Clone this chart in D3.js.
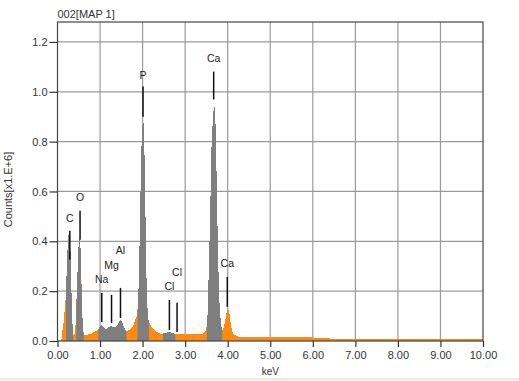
<!DOCTYPE html>
<html>
<head>
<meta charset="utf-8">
<script src="https://cdn.jsdelivr.net/npm/d3@7"></script>
<style>
  body { margin: 0; background: #fff; }
  text { font-family: "Liberation Sans", Arial, sans-serif; }
</style>
</head>
<body>
<svg id="chart" width="519" height="381"></svg>
<script>
// spectrum, keV vs counts (x1.E+6)
const energy = [0.00, 0.08, 0.10, 0.12, 0.14, 0.16, 0.18, 0.20, 0.22, 0.24, 0.26, 0.28, 0.30, 0.32, 0.34, 0.36, 0.38,
  0.40, 0.42, 0.44, 0.46, 0.48, 0.50, 0.52, 0.54, 0.56, 0.58, 0.60, 0.62, 0.70, 0.80, 0.90, 0.96,
  1.00, 1.04, 1.08, 1.14, 1.20, 1.25, 1.32, 1.40, 1.46, 1.49, 1.53, 1.58, 1.62, 1.70, 1.78, 1.84, 1.87,
  1.90, 1.93, 1.96, 1.98, 2.00, 2.02, 2.04, 2.06, 2.08, 2.10, 2.13, 2.16, 2.20, 2.30, 2.40, 2.48,
  2.55, 2.62, 2.70, 2.78, 3.00, 3.30, 3.42, 3.48, 3.52, 3.55, 3.58, 3.62, 3.66, 3.69, 3.72, 3.75,
  3.78, 3.81, 3.84, 3.87, 3.90, 3.94, 3.98, 4.01, 4.04, 4.07, 4.10, 4.15, 4.25, 5.00, 6.00, 6.40,
  6.42, 8.00, 10.00];
const counts = [0, 0, 0.01, 0.05, 0.07, 0.10, 0.16, 0.17, 0.32, 0.38, 0.43, 0.44, 0.40, 0.26, 0.12, 0.04, 0.02,
  0.03, 0.05, 0.14, 0.22, 0.33, 0.40, 0.41, 0.38, 0.26, 0.12, 0.05, 0.025, 0.025, 0.03, 0.04, 0.045,
  0.06, 0.065, 0.055, 0.048, 0.055, 0.06, 0.055, 0.06, 0.08, 0.085, 0.07, 0.05, 0.04, 0.045, 0.06, 0.09, 0.10,
  0.18, 0.40, 0.68, 0.82, 0.87, 0.88, 0.80, 0.60, 0.36, 0.18, 0.09, 0.075, 0.06, 0.04, 0.03, 0.03,
  0.033, 0.036, 0.033, 0.028, 0.027, 0.027, 0.03, 0.04, 0.07, 0.25, 0.45, 0.78, 0.92, 0.94, 0.85, 0.55,
  0.30, 0.14, 0.07, 0.04, 0.05, 0.08, 0.12, 0.13, 0.11, 0.07, 0.04, 0.025, 0.017, 0.015, 0.014, 0.013,
  0.007, 0.007, 0.006];

// identified peak ranges (drawn gray)
const peakRanges = [[0.20, 0.37], [0.44, 0.62], [0.96, 1.62], [1.88, 2.15], [2.48, 2.77], [3.51, 3.87]];

// element markers: name, keV, line top, line bottom, label height
const markerNames = ["C", "O", "Na", "Mg", "Al", "P", "Cl", "Cl", "Ca", "Ca"];
const markerKeV = [0.29, 0.53, 1.04, 1.27, 1.48, 2.01, 2.63, 2.81, 3.67, 3.99];
const markerTop = [0.442, 0.523, 0.193, 0.185, 0.213, 1.021, 0.165, 0.153, 1.081, 0.257];
const markerBottom = [0.326, 0.406, 0.076, 0.072, 0.092, 0.90, 0.044, 0.036, 0.969, 0.137];
const markerLabelAt = [0.478, 0.563, 0.233, 0.289, 0.35, 1.053, 0.205, 0.261, 1.118, 0.297];

const xTicks = d3.range(0, 10.01, 1);
const yTicks = [0, 0.2, 0.4, 0.6, 0.8, 1.0, 1.2];

const spectrum = energy.map((e, i) => ({ e: e, c: counts[i] }));
const markers = markerNames.map((n, i) => ({
  name: n, e: markerKeV[i], top: markerTop[i], bottom: markerBottom[i], label: markerLabelAt[i]
}));

const margin = { left: 57.5, right: 36, top: 22, bottom: 40 };
const width = 519, height = 381;

const svg = d3.select("#chart");

const x = d3.scaleLinear().domain([0, 10]).range([margin.left, width - margin.right]);
const y = d3.scaleLinear().domain([0, 1.28]).range([height - margin.bottom, margin.top]);

// grid
svg.append("g")
  .selectAll("line.vgrid")
  .data(xTicks.slice(1, -1))
  .enter()
  .append("line")
  .attr("x1", d => x(d)).attr("x2", d => x(d))
  .attr("y1", y(0)).attr("y2", margin.top)
  .attr("stroke", "#9a9a9a")
  .attr("stroke-width", 1.2);

svg.append("g")
  .selectAll("line.hgrid")
  .data(yTicks.slice(1))
  .enter()
  .append("line")
  .attr("x1", x(0)).attr("x2", x(10))
  .attr("y1", d => y(d)).attr("y2", d => y(d))
  .attr("stroke", "#9a9a9a")
  .attr("stroke-width", 1.2);

// spectrum
const area = d3.area()
  .x(d => x(d.e))
  .y0(y(0))
  .y1(d => y(d.c));

svg.append("path")
  .datum(spectrum)
  .attr("fill", "#ff8a12")
  .attr("shape-rendering", "crispEdges")
  .attr("d", area);

const defs = svg.append("defs");
peakRanges.forEach((r, i) => {
  defs.append("clipPath")
    .attr("id", "peak" + i)
    .append("rect")
    .attr("x", x(r[0]))
    .attr("y", margin.top)
    .attr("width", x(r[1]) - x(r[0]))
    .attr("height", y(0) - margin.top);

  svg.append("path")
    .datum(spectrum)
    .attr("fill", "#7f7f7f")
    .attr("shape-rendering", "crispEdges")
    .attr("clip-path", `url(#peak${i})`)
    .attr("d", area);
});

// frame
svg.append("rect")
  .attr("x", x(0)).attr("y", margin.top)
  .attr("width", x(10) - x(0)).attr("height", y(0) - margin.top)
  .attr("fill", "none")
  .attr("stroke", "#444")
  .attr("stroke-width", 1.2);

// axes
const xAxis = svg.append("g")
  .attr("transform", `translate(0,${y(0)})`)
  .call(d3.axisBottom(x).tickValues(xTicks).tickFormat(d3.format(".2f")).tickSize(6).tickPadding(4));

const yAxis = svg.append("g")
  .attr("transform", `translate(${x(0)},0)`)
  .call(d3.axisLeft(y).tickValues(yTicks).tickFormat(d3.format(".1f")).tickSize(8).tickPadding(2));

[xAxis, yAxis].forEach(a => {
  a.select(".domain").remove();
  a.selectAll(".tick line").attr("stroke", "#333").attr("stroke-width", 1.2);
  a.selectAll(".tick text")
    .attr("fill", "#333")
    .attr("font-size", 11)
    .attr("font-family", "Liberation Sans, Arial, sans-serif");
});

// markers
const mark = svg.append("g")
  .selectAll("g.marker")
  .data(markers)
  .enter()
  .append("g");

mark.append("line")
  .attr("x1", d => x(d.e)).attr("x2", d => x(d.e))
  .attr("y1", d => y(d.top)).attr("y2", d => y(d.bottom))
  .attr("stroke", "#111")
  .attr("stroke-width", 1.5);

mark.append("text")
  .attr("x", d => x(d.e))
  .attr("y", d => y(d.label))
  .attr("text-anchor", "middle")
  .attr("font-size", 10.5)
  .attr("fill", "#222")
  .text(d => d.name);

// titles
svg.append("text")
  .attr("x", x(0))
  .attr("y", 18)
  .attr("font-size", 11)
  .attr("fill", "#333")
  .text("002[MAP 1]");

svg.append("text")
  .attr("transform", `translate(12,${(margin.top + y(0)) / 2 + 8}) rotate(-90)`)
  .attr("text-anchor", "middle")
  .attr("font-size", 11)
  .attr("fill", "#333")
  .text("Counts[x1.E+6]");

svg.append("text")
  .attr("x", (x(0) + x(10)) / 2)
  .attr("y", 375)
  .attr("text-anchor", "middle")
  .attr("font-size", 10)
  .attr("fill", "#333")
  .text("keV");

svg.append("rect")
  .attr("x", 0).attr("y", 378)
  .attr("width", width).attr("height", 3)
  .attr("fill", "#ececec");
</script>
</body>
</html>
